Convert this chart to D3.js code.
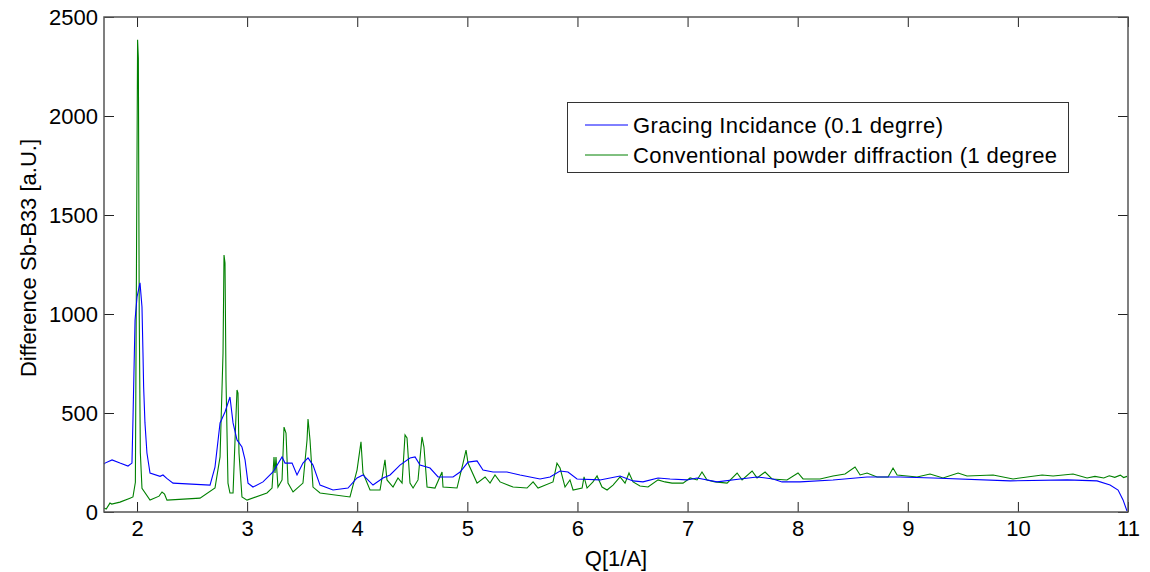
<!DOCTYPE html>
<html><head><meta charset="utf-8">
<script src="https://cdn.jsdelivr.net/npm/d3@7"></script>
<style>body{margin:0;background:#fff}svg{display:block}text{font-family:"Liberation Sans",Arial,sans-serif}</style>
</head><body><svg id="c" width="1150" height="572"></svg>
<script>
const xTicks=[2,3,4,5,6,7,8,9,10,11];
const yTicks=[0,500,1000,1500,2000,2500];
const seriesNames=["Gracing Incidance (0.1 degrre)","Conventional powder diffraction (1 degree"];
const seriesColors=["#0000ff","#008000"];
const blueQ=[1.70,1.709,1.773,1.845,1.918,1.954,1.963,1.982,2.0,2.027,2.045,2.054,2.06,2.072,2.09,2.118,2.209,2.236,2.27,2.327,2.663,2.708,2.754,2.799,2.844,2.872,2.908,2.953,2.981,3.008,3.053,3.144,3.235,3.317,3.344,3.408,3.453,3.507,3.553,3.598,3.662,3.780,3.916,3.998,4.052,4.143,4.234,4.298,4.361,4.388,4.479,4.525,4.570,4.661,4.734,4.870,4.934,5.006,5.088,5.142,5.233,5.360,5.478,5.660,5.751,5.842,5.914,5.996,6.205,6.387,6.505,6.595,6.732,6.841,6.995,7.086,7.268,7.477,7.631,7.776,7.858,8.021,8.321,8.630,8.930,9.230,9.929,10.447,10.719,10.837,10.910,10.955,10.991];
const blueI=[242,247,263,247,232,247,465,970,1086,1157,1035,803,631,450,298,197,180,187,170,146,136,227,450,505,581,450,364,328,263,146,126,152,202,278,247,247,187,247,273,237,136,111,121,172,187,136,172,187,222,237,273,278,237,222,177,177,202,252,258,212,202,202,187,167,177,207,202,167,162,182,157,152,172,167,162,172,152,167,177,167,152,152,162,177,177,172,157,162,157,136,111,61,5];
const greenQ=[1.70,1.72,1.754,1.77,1.845,1.936,1.963,1.985,1.995,2.005,2.012,2.02,2.03,2.045,2.118,2.20,2.227,2.25,2.272,2.572,2.708,2.754,2.781,2.790,2.799,2.808,2.826,2.844,2.872,2.890,2.908,2.917,2.926,2.953,2.999,3.180,3.226,3.244,3.253,3.262,3.280,3.317,3.335,3.353,3.371,3.417,3.507,3.544,3.553,3.571,3.598,3.662,3.934,3.998,4.034,4.052,4.116,4.207,4.252,4.270,4.325,4.370,4.407,4.434,4.452,4.479,4.507,4.552,4.588,4.606,4.634,4.706,4.770,4.779,4.906,4.961,4.988,5.006,5.088,5.161,5.206,5.251,5.297,5.415,5.542,5.597,5.642,5.778,5.814,5.842,5.887,5.932,5.960,6.042,6.060,6.087,6.141,6.178,6.223,6.269,6.323,6.387,6.432,6.468,6.505,6.568,6.641,6.732,6.795,6.859,6.959,7.023,7.086,7.131,7.177,7.250,7.359,7.450,7.495,7.586,7.631,7.704,7.767,7.903,8.003,8.049,8.203,8.321,8.430,8.521,8.567,8.630,8.721,8.821,8.866,8.903,9.084,9.202,9.320,9.457,9.538,9.775,9.956,10.220,10.320,10.501,10.628,10.70,10.78,10.83,10.88,10.93,10.96,10.991];
const greenI=[20,15,45,40,50,70,76,150,1263,2385,2293,1000,300,120,60,80,101,90,60,70,121,278,803,1298,1258,667,146,96,96,364,616,600,298,76,60,96,121,278,197,278,126,162,429,399,146,101,146,364,470,364,126,96,76,212,354,197,111,111,263,162,126,172,146,389,374,146,121,162,379,328,126,121,202,126,121,247,313,247,146,177,146,187,152,126,121,152,121,152,247,222,126,162,111,121,177,121,152,182,126,111,136,177,146,197,152,131,126,162,152,146,146,172,162,202,162,152,146,197,162,207,172,202,167,162,197,167,167,182,192,227,187,197,177,177,222,187,177,192,172,197,182,187,167,187,182,192,172,180,172,183,175,186,174,180];

const W=1150,H=572,m={l:104,t:17,r:1150-1128,b:572-512};
const svg=d3.select("#c");
const x=d3.scaleLinear().domain([1.7,11]).range([m.l,W-m.r]);
const y=d3.scaleLinear().domain([0,2500]).range([H-m.b,m.t]);
const fs="22px";
const gx=svg.append("g").attr("transform",`translate(0,${H-m.b})`).call(d3.axisBottom(x).tickValues(xTicks).tickSize(-10).tickPadding(8).tickFormat(d3.format("d")));
const gy=svg.append("g").attr("transform",`translate(${m.l},0)`).call(d3.axisLeft(y).tickValues(yTicks).tickSize(-10).tickPadding(6).tickFormat(d3.format("d")));
const gt=svg.append("g").attr("transform",`translate(0,${m.t})`).call(d3.axisTop(x).tickValues(xTicks).tickSize(-10).tickFormat(""));
const gr=svg.append("g").attr("transform",`translate(${W-m.r},0)`).call(d3.axisRight(y).tickValues(yTicks).tickSize(-10).tickFormat(""));
[gx,gy,gt,gr].forEach(g=>{g.selectAll(".domain").remove();g.selectAll("line").attr("stroke","#222");g.selectAll("text").attr("fill","#000").style("font-size",fs).style("font-family","'Liberation Sans',Arial,sans-serif");});
gy.selectAll("text").attr("dy","0.35em");
const line=d3.line().x(d=>x(d[0])).y(d=>y(d[1]));
const blue=blueQ.map((q,i)=>[q,blueI[i]]);
const green=greenQ.map((q,i)=>[q,greenI[i]]);
svg.append("path").datum(green).attr("d",line).attr("fill","none").attr("stroke",seriesColors[1]).attr("stroke-width",1.1);
svg.append("path").datum(blue).attr("d",line).attr("fill","none").attr("stroke",seriesColors[0]).attr("stroke-width",1.1);
svg.append("rect").attr("x",m.l).attr("y",m.t).attr("width",W-m.r-m.l).attr("height",H-m.b-m.t).attr("fill","none").attr("stroke","#555").attr("stroke-width",1.5);
svg.append("text").attr("x",(m.l+W-m.r)/2).attr("y",566).attr("text-anchor","middle").style("font-size",fs).text("Q[1/A]");
svg.append("text").attr("transform",`translate(36,258) rotate(-90)`).attr("text-anchor","middle").style("font-size",fs).text("Difference Sb-B33 [a.U.]");
const lg=svg.append("g");
lg.append("rect").attr("x",567.5).attr("y",102.5).attr("width",501).attr("height",70).attr("fill","#fff").attr("stroke","#333");
seriesNames.forEach((n,i)=>{const yy=125+i*30;
lg.append("line").attr("x1",585).attr("x2",628).attr("y1",yy).attr("y2",yy).attr("stroke",seriesColors[i]);
lg.append("text").attr("x",633).attr("y",yy).attr("dy","0.35em").style("font-size",fs).style("letter-spacing","0.4px").text(n);});
</script></body></html>
